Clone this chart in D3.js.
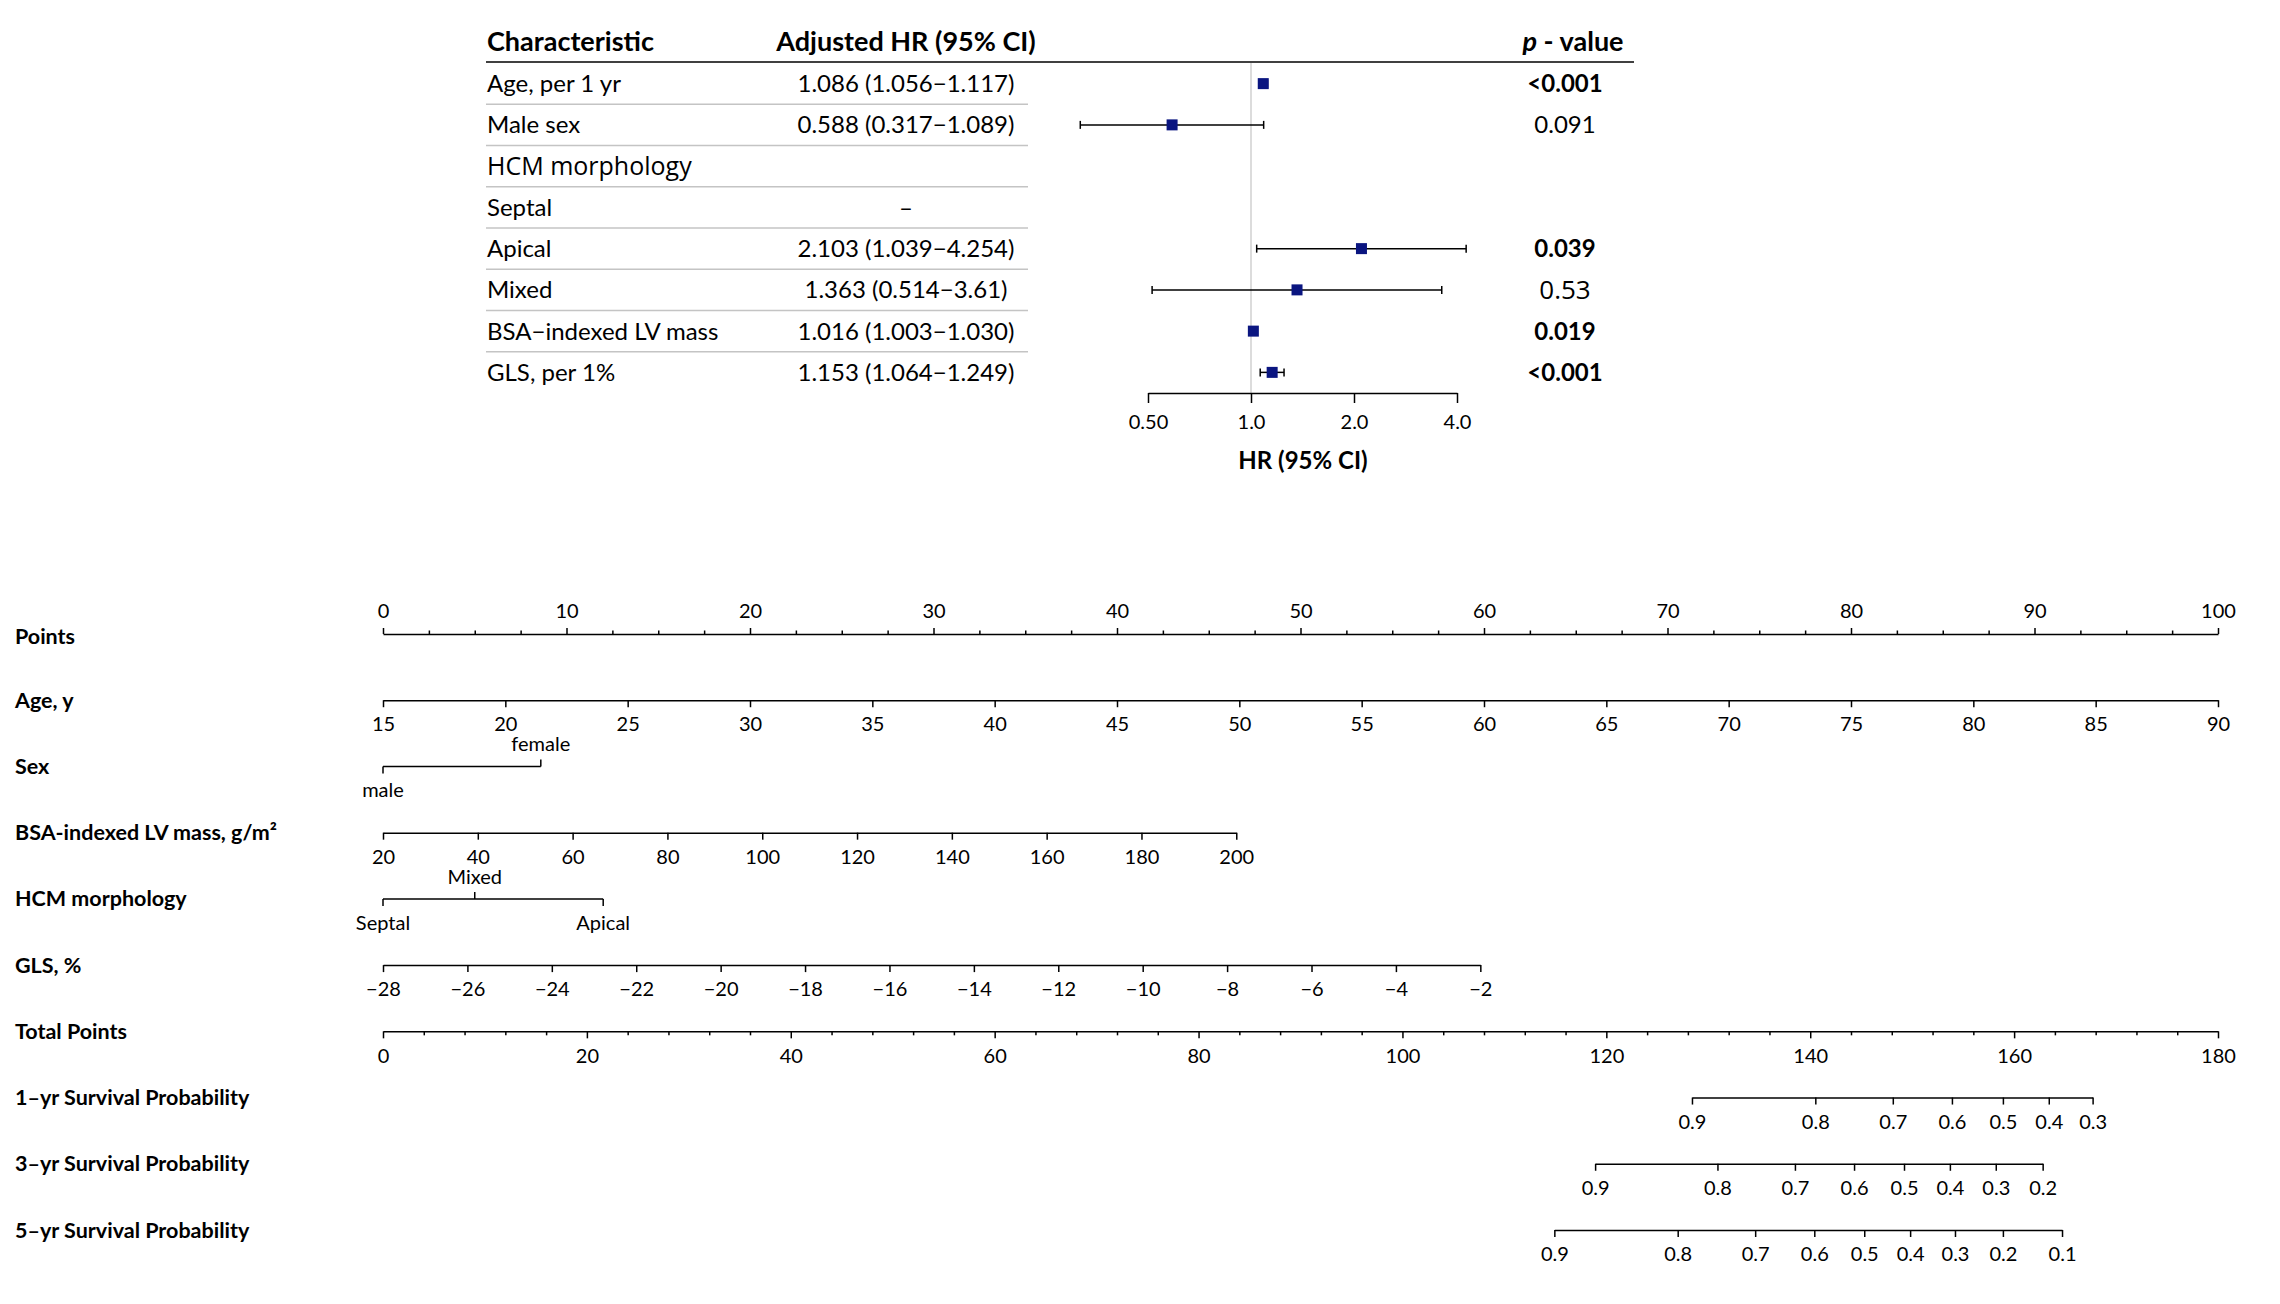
<!DOCTYPE html>
<html>
<head>
<meta charset="utf-8">
<style>
  body { margin: 0; background: #fff; }
  svg { display: block; }
  .lbl { font-family: Lato, sans-serif; font-weight: bold; font-size: 21.5px; fill: #000; }
  .cat { font-family: Lato, sans-serif; font-size: 20px; fill: #000; }
  .cell { font-family: Lato, sans-serif; font-size: 24px; fill: #000; }
  .head { font-family: Lato, sans-serif; font-weight: bold; font-size: 27px; fill: #000; }
</style>
</head>
<body>
<svg id="chart" width="2280" height="1304"></svg>
<script src="https://d3js.org/d3.v7.min.js"></script>
<script>
// ---- forest plot data ----
var charLabels = ["Age, per 1 yr", "Male sex", "HCM morphology", "Septal", "Apical", "Mixed", "BSA\u2212indexed LV mass", "GLS, per 1%"];
var hrVal = [1.086, 0.588, null, null, 2.103, 1.363, 1.016, 1.153];
var hrLow = [1.056, 0.317, null, null, 1.039, 0.514, 1.003, 1.064];
var hrHigh = [1.117, 1.089, null, null, 4.254, 3.61, 1.030, 1.249];
var hrText = ["1.086 (1.056\u22121.117)", "0.588 (0.317\u22121.089)", "", "\u2013", "2.103 (1.039\u22124.254)", "1.363 (0.514\u22123.61)", "1.016 (1.003\u22121.030)", "1.153 (1.064\u22121.249)"];
var pText = ["<0.001", "0.091", "", "", "0.039", "0.53", "0.019", "<0.001"];
var pBold = [true, false, false, false, true, false, true, true];
var hrTicks = [0.5, 1, 2, 4];
var hrTickLabels = ["0.50", "1.0", "2.0", "4.0"];

// ---- nomogram data ----
var rowNames = ["Points", "Age, y", "Sex", "BSA-indexed LV mass, g/m\u00b2", "HCM morphology", "GLS, %", "Total Points",
  "1\u2013yr Survival Probability", "3\u2013yr Survival Probability", "5\u2013yr Survival Probability"];
var pointsTicks = [0, 10, 20, 30, 40, 50, 60, 70, 80, 90, 100];
var ageTicks = [15, 20, 25, 30, 35, 40, 45, 50, 55, 60, 65, 70, 75, 80, 85, 90];
var agePoints = [0, 100];
var bsaTicks = [20, 40, 60, 80, 100, 120, 140, 160, 180, 200];
var bsaPoints = [0, 46.5];
var glsTicks = [-28, -26, -24, -22, -20, -18, -16, -14, -12, -10, -8, -6, -4, -2];
var glsPoints = [0, 59.8];
var sexLevels = ["male", "female"];
var sexPoints = [0, 8.6];
var hcmLevels = ["Septal", "Mixed", "Apical"];
var hcmPoints = [0, 5.0, 12.0];
var totalTicks = [0, 20, 40, 60, 80, 100, 120, 140, 160, 180];
var surv1Ticks = [0.9, 0.8, 0.7, 0.6, 0.5, 0.4, 0.3];
var surv1Total = [128.4, 140.5, 148.1, 153.9, 158.9, 163.4, 167.7];
var surv3Ticks = [0.9, 0.8, 0.7, 0.6, 0.5, 0.4, 0.3, 0.2];
var surv3Total = [118.9, 130.9, 138.5, 144.3, 149.2, 153.7, 158.2, 162.8];
var surv5Ticks = [0.9, 0.8, 0.7, 0.6, 0.5, 0.4, 0.3, 0.2, 0.1];
var surv5Total = [114.9, 127.0, 134.6, 140.4, 145.3, 149.8, 154.2, 158.9, 164.7];

var svg = d3.select("#chart");

// ================= forest table =================
var tableLeft = 487, tableRight = 1028, headLineEnd = 1634;
var rowY = d3.scaleBand().domain(charLabels).range([63, 393]);
var xHR = d3.scaleLog().base(2).domain([0.5, 4]).range([1148, 1457]);

var head = svg.append("g");
head.append("text").attr("class", "head").attr("x", tableLeft).attr("y", 51).text("Characteristic");
head.append("text").attr("class", "head").attr("x", 906).attr("y", 51).attr("text-anchor", "middle").text("Adjusted HR (95% CI)");
var ph = head.append("text").attr("class", "head").attr("x", 1573).attr("y", 51).attr("text-anchor", "middle");
ph.append("tspan").attr("font-style", "italic").text("p");
ph.append("tspan").text(" - value");
head.append("line").attr("x1", tableLeft - 1).attr("x2", headLineEnd).attr("y1", 62).attr("y2", 62)
  .attr("stroke", "#000").attr("stroke-width", 1.5);

// reference line at HR = 1
svg.append("line").attr("x1", xHR(1)).attr("x2", xHR(1)).attr("y1", 63).attr("y2", 393)
  .attr("stroke", "#d0d0d0").attr("stroke-width", 1.5);

var rows = svg.selectAll(".frow").data(charLabels).enter().append("g").attr("class", "frow")
  .attr("transform", d => "translate(0," + (rowY(d) + rowY.bandwidth() / 2) + ")");

rows.append("text")
  .attr("x", tableLeft)
  .attr("dy", "0.35em")
  .attr("class", "cell")
  .style("font-family", (d, i) => i === 2 ? "'Open Sans', sans-serif" : null)
  .style("font-size", (d, i) => i === 2 ? "25px" : null)
  .text(d => d);

rows.append("text")
  .attr("x", 906)
  .attr("dy", "0.35em")
  .attr("text-anchor", "middle")
  .attr("class", "cell")
  .text((d, i) => hrText[i]);

rows.append("text")
  .attr("x", 1565)
  .attr("dy", "0.35em")
  .attr("text-anchor", "middle")
  .attr("class", "cell")
  .style("font-weight", (d, i) => pBold[i] ? "bold" : "normal")
  .style("font-family", (d, i) => pText[i] === "0.53" ? "'Open Sans', sans-serif" : null)
  .style("font-size", (d, i) => pText[i] === "0.53" ? "26px" : null)
  .text((d, i) => pText[i]);

// separators (not below the last row)
rows.filter((d, i) => i < charLabels.length - 1).append("line")
  .attr("x1", tableLeft - 1).attr("x2", tableRight)
  .attr("y1", rowY.bandwidth() / 2).attr("y2", rowY.bandwidth() / 2)
  .attr("stroke", "#c4c4c4").attr("stroke-width", 1.5);

// CI whiskers and squares
var est = rows.filter((d, i) => hrVal[i] !== null);
est.each(function (d) {
  var i = charLabels.indexOf(d);
  var g = d3.select(this);
  var x1 = xHR(hrLow[i]), x2 = xHR(hrHigh[i]);
  g.append("line").attr("x1", x1).attr("x2", x2).attr("y1", 0).attr("y2", 0)
    .attr("stroke", "#000").attr("stroke-width", 1.5);
  [x1, x2].forEach(x => g.append("line").attr("x1", x).attr("x2", x).attr("y1", -4).attr("y2", 4)
    .attr("stroke", "#000").attr("stroke-width", 1.5));
  g.append("rect").attr("x", xHR(hrVal[i]) - 5.5).attr("y", -5.5).attr("width", 11).attr("height", 11)
    .attr("fill", "#0a1580");
});

var hrAxis = svg.append("g").attr("transform", "translate(0,393)")
  .call(d3.axisBottom(xHR).tickValues(hrTicks).tickFormat((d, i) => hrTickLabels[i])
    .tickSize(10).tickSizeOuter(0).tickPadding(12));
hrAxis.selectAll("path, line").attr("stroke-width", 1.5);
hrAxis.selectAll("text").style("font-family", "Lato, sans-serif").style("font-size", "20px");
svg.append("text").attr("class", "lbl").style("font-size", "24px")
  .attr("x", 1303).attr("y", 461).attr("dy", "0.35em").attr("text-anchor", "middle").text("HR (95% CI)");

// ================= nomogram =================
var xPts = d3.scaleLinear().domain([0, 100]).range([383, 2218]);
var xTot = d3.scaleLinear().domain([0, 180]).range([383, 2218]);
var yRow = d3.scalePoint().domain(rowNames).range([634, 1230]);

svg.selectAll(".rlab").data(rowNames).enter().append("text")
  .attr("class", "lbl")
  .attr("x", 15)
  .attr("y", (d, i) => yRow(d) + (i === 0 ? 2 : 0))
  .attr("dy", "0.35em")
  .text(d => d);

function styleAxis(g) {
  g.selectAll("path, line").attr("stroke", "#000").attr("stroke-width", 1.5);
  g.selectAll("text").style("font-family", "Lato, sans-serif").style("font-size", "20px").attr("fill", "#000");
}

function bottomAxis(row, scale, ticks, fmt) {
  var g = svg.append("g").attr("transform", "translate(0," + yRow(row) + ")")
    .call(d3.axisBottom(scale).tickValues(ticks).tickFormat(fmt || (d => d))
      .tickSize(7).tickSizeOuter(0).tickPadding(10));
  styleAxis(g);
  return g;
}

// Points (top axis with minor ticks)
var ptsMajor = svg.append("g").attr("transform", "translate(0," + yRow("Points") + ")")
  .call(d3.axisTop(xPts).tickValues(pointsTicks).tickSize(6).tickSizeOuter(0).tickPadding(10));
styleAxis(ptsMajor);
var ptsMinor = svg.append("g").attr("transform", "translate(0," + yRow("Points") + ")")
  .call(d3.axisTop(xPts).tickValues(d3.range(0, 100, 2.5).filter(v => v % 10 !== 0)).tickSize(3.5).tickFormat(""));
ptsMinor.select(".domain").remove();
styleAxis(ptsMinor);

// continuous predictors
var xAge = d3.scaleLinear().domain([ageTicks[0], ageTicks[ageTicks.length - 1]]).range(agePoints.map(xPts));
bottomAxis("Age, y", xAge, ageTicks);
var xBsa = d3.scaleLinear().domain([bsaTicks[0], bsaTicks[bsaTicks.length - 1]]).range(bsaPoints.map(xPts));
bottomAxis(rowNames[3], xBsa, bsaTicks);
var xGls = d3.scaleLinear().domain([glsTicks[0], glsTicks[glsTicks.length - 1]]).range(glsPoints.map(xPts));
bottomAxis("GLS, %", xGls, glsTicks, d => d < 0 ? "\u2212" + Math.abs(d) : d);

// categorical predictors
function catAxis(row, levels, pts, ups) {
  var y = yRow(row);
  var g = svg.append("g").attr("transform", "translate(0," + y + ")");
  g.append("line").attr("x1", xPts(d3.min(pts))).attr("x2", xPts(d3.max(pts)))
    .attr("stroke", "#000").attr("stroke-width", 1.5);
  levels.forEach(function (lv, i) {
    var x = xPts(pts[i]);
    var up = ups[i];
    g.append("line").attr("x1", x).attr("x2", x).attr("y1", 0).attr("y2", up ? -7 : 7)
      .attr("stroke", "#000").attr("stroke-width", 1.5);
    g.append("text").attr("class", "cat").attr("x", x).attr("y", up ? -22 : 24)
      .attr("dy", "0.35em").attr("text-anchor", "middle").text(lv);
  });
}
catAxis("Sex", sexLevels, sexPoints, [false, true]);
catAxis("HCM morphology", hcmLevels, hcmPoints, [false, true, false]);

// Total points with minor ticks
bottomAxis("Total Points", xTot, totalTicks);
var totMinor = svg.append("g").attr("transform", "translate(0," + yRow("Total Points") + ")")
  .call(d3.axisBottom(xTot).tickValues(d3.range(0, 180, 4).filter(v => v % 20 !== 0)).tickSize(4).tickFormat(""));
totMinor.select(".domain").remove();
styleAxis(totMinor);

// survival probability scales
[[surv1Ticks, surv1Total], [surv3Ticks, surv3Total], [surv5Ticks, surv5Total]].forEach(function (s, k) {
  var sc = d3.scaleLinear().domain(s[0]).range(s[1].map(xTot));
  bottomAxis(rowNames[7 + k], sc, s[0], d3.format(".1f"));
});
</script>
</body>
</html>
